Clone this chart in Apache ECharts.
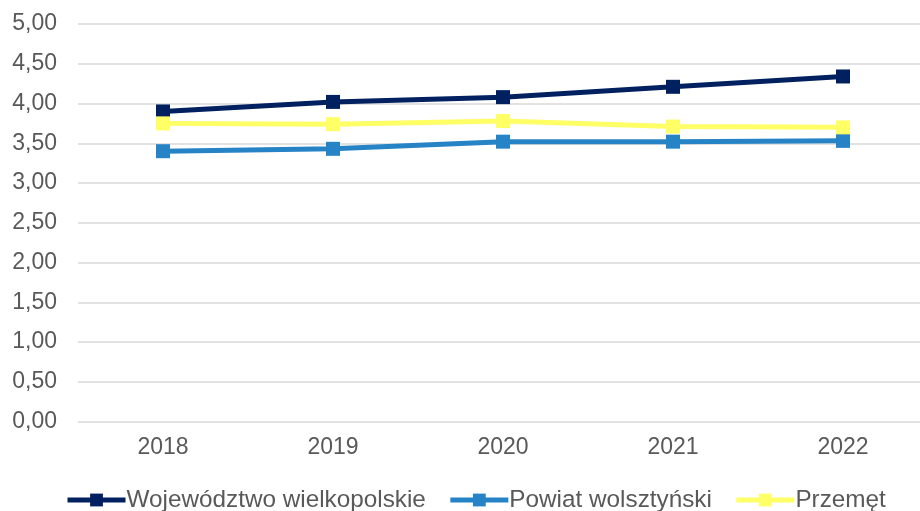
<!DOCTYPE html>
<html><head><meta charset="utf-8">
<script src="https://cdn.jsdelivr.net/npm/echarts@6/dist/echarts.min.js"></script>
<style>html,body{margin:0;padding:0;background:#fff;overflow:hidden;width:920px;height:511px}#c{width:928px;height:511px}</style>
</head><body><div id="c"></div>
<script>
const categories = ['2018','2019','2020','2021','2022'];
const wojewodztwo = [3.90, 4.02, 4.08, 4.21, 4.34];
const powiat = [3.40, 3.43, 3.52, 3.52, 3.53];
const przemet = [3.75, 3.74, 3.78, 3.71, 3.70];

const font = 'Liberation Sans, Arial, sans-serif';
function mk(name, data, color){
  return {name, type:'line', data, symbol:'rect', symbolSize:14,
    lineStyle:{width:5,color}, itemStyle:{color}, emphasis:{disabled:true}};
}
const chart = echarts.init(document.getElementById('c'));
chart.setOption({
  animation:false,
  grid:{left:78,right:0,top:24,height:397.5,containLabel:false},
  xAxis:{type:'category',data:categories,boundaryGap:true,
    axisLine:{show:false},axisTick:{show:false},
    axisLabel:{color:'#595959',fontSize:23,fontFamily:font,margin:15}},
  yAxis:{type:'value',min:0,max:5,interval:0.5,
    axisLabel:{color:'#595959',fontSize:23,fontFamily:font,margin:21,
      formatter:v=>v.toFixed(2).replace('.',',')},
    splitLine:{lineStyle:{color:'#d9d9d9',width:1.5}}},
  legend:{bottom:-6,left:60,itemWidth:58,itemHeight:16,itemGap:22,
    lineStyle:{width:5},
    textStyle:{color:'#595959',fontSize:24.3,fontFamily:font,padding:[0,0,0,-4]},
    data:['Województwo wielkopolskie','Powiat wolsztyński','Przemęt']},
  series:[
    mk('Województwo wielkopolskie', wojewodztwo, '#002060'),
    mk('Powiat wolsztyński', powiat, '#2683C6'),
    mk('Przemęt', przemet, '#FFFF66')
  ]
});
</script></body></html>
